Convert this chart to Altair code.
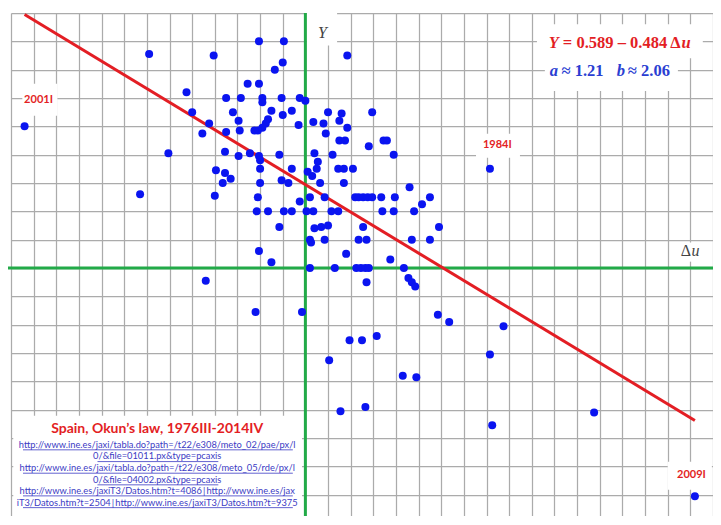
import altair as alt
import pandas as pd

# ---- data: quarterly change in unemployment rate (du) and GDP growth (Y) ----
du = [-0.19, -0.41, -1.38, -0.81, 0.37, -0.20, -0.27, -0.51, -0.41, -1.05,
      -0.70, -0.57, -0.38, -0.38, -0.21, -0.05, 0.00, -1.00, -0.64, -0.30,
      -0.12, -0.20, 0.20, 0.32, 0.59, -0.59, -0.33, -0.85, -0.06, 0.07,
      0.16, 0.30, -0.35, -2.48, 0.37, -0.38, -0.42, -0.45, -0.58, -0.70,
      -0.91, 0.18, 0.30, 0.35, 0.69, 0.72, 0.56, -1.21, -0.71, -0.59,
      -0.49, -0.41, -0.40, -0.23, 0.08, 0.11, 0.24, 0.78, 1.63, -0.79,
      -0.71, -0.66, -0.73, -0.40, -0.12, 0.02, 0.10, 0.06, 0.29, 0.34,
      0.42, -0.21, -0.15, -0.40, 0.13, 0.34, 0.92, -1.46, -0.80, -0.42,
      -0.05, 0.04, 0.17, 0.44, 0.47, 0.51, 0.55, 0.59, 0.67, 0.79,
      1.10, 1.03, -0.43, -0.33, -0.19, -0.12, 0.01, 0.07, 0.23, 0.29,
      0.68, 0.78, 0.96, -0.23, 0.08, 0.14, 0.20, 0.51, 1.18, 0.04,
      0.05, 0.17, 0.47, 0.54, 0.94, 1.10, -0.41, 0.36, 0.75, -0.30,
      0.04, 0.26, 0.45, 0.49, 0.53, 0.56, 0.87, 0.91, 0.94, 0.97,
      0.54, -0.88, -0.44, -0.03, 1.17, 1.27, 1.75, 0.39, 0.50, 0.63,
      0.21, 1.63, 0.86, 0.98, 0.31, 0.53, 2.55, 1.65, 3.44]
gdp = [1.60, 1.60, 1.51, 1.50, 1.50, 1.45, 1.40, 1.30, 1.30, 1.24,
       1.20, 1.20, 1.20, 1.17, 1.20, 1.20, 1.18, 1.10, 1.10, 1.11,
       1.11, 1.08, 1.10, 1.09, 1.10, 1.04, 1.05, 1.02, 1.01, 1.03,
       1.02, 1.04, 1.02, 1.00, 0.99, 0.99, 0.97, 0.97, 0.97, 0.96,
       0.95, 0.95, 0.90, 0.90, 0.90, 0.90, 0.86, 0.81, 0.82, 0.79,
       0.81, 0.79, 0.76, 0.80, 0.81, 0.75, 0.80, 0.80, 0.70, 0.69,
       0.67, 0.63, 0.60, 0.70, 0.70, 0.68, 0.70, 0.65, 0.70, 0.70,
       0.70, 0.62, 0.60, 0.60, 0.60, 0.60, 0.57, 0.52, 0.51, 0.50,
       0.47, 0.50, 0.50, 0.50, 0.50, 0.50, 0.50, 0.50, 0.50, 0.50,
       0.50, 0.45, 0.40, 0.40, 0.40, 0.40, 0.40, 0.40, 0.40, 0.40,
       0.40, 0.40, 0.40, 0.29, 0.28, 0.29, 0.30, 0.29, 0.29, 0.20,
       0.18, 0.20, 0.20, 0.20, 0.20, 0.20, 0.12, 0.10, 0.06, 0.04,
       0.00, 0.00, 0.00, 0.00, 0.00, 0.00, 0.00, -0.07, -0.10, -0.13,
       -0.10, -0.09, -0.31, -0.31, -0.33, -0.38, -0.41, -0.51, -0.51, -0.48,
       -0.65, -0.61, -0.76, -0.77, -1.01, -0.98, -1.02, -1.11, -1.61]

# fitted line  Y = intercept + slope * du
intercept = 0.589
slope = -0.484
fit_du = [-2.48, 3.44]

# grid / axis range
x_domain = [-2.6, 3.6]
y_domain = [-1.75, 1.8]
grid_x = [round(-2.6 + 0.2 * i, 1) for i in range(32)]
grid_y = [round(-1.6 + 0.2 * i, 1) for i in range(18)]

# annotation boxes (white backgrounds)
box_x1 = [0.01, 3.27, 2.045, 2.115, -2.50, 1.507, 3.20, -2.58]
box_x2 = [0.28, 3.52, 3.51, 3.29, -2.19, 1.895, 3.59, -0.03]
box_y1 = [1.57, 0.045, 1.48, 1.25, 1.075, 0.778, -1.565, -1.75]
box_y2 = [1.80, 0.18, 1.72, 1.50, 1.30, 0.948, -1.367, -1.043]

# labels
year_labels = ["2001I", "1984I", "2009I"]
year_x = [-2.357, 1.695, 3.41]
year_y = [1.188, 0.865, -1.459]

title_text = "Spain, Okun\u2019s law, 1976III-2014IV"
link_lines = [
    "http://www.ine.es/jaxi/tabla.do?path=/t22/e308/meto_02/pae/px/l",
    "0/&file=01011.px&type=pcaxis",
    "http://www.ine.es/jaxi/tabla.do?path=/t22/e308/meto_05/rde/px/l",
    "0/&file=04002.px&type=pcaxis",
    "http://www.ine.es/jaxiT3/Datos.htm?t=4086\u2009|\u2009http://www.ine.es/jax",
    "iT3/Datos.htm?t=2504\u2009|\u2009http://www.ine.es/jaxiT3/Datos.htm?t=9375",
]
link_y = [-1.247, -1.330, -1.412, -1.494, -1.572, -1.655]
link_ul_x1 = [-2.494, -1.836, -2.494, -1.836, -2.494, -2.494]
link_ul_x2 = [-0.111, -0.769, -0.111, -0.769, -0.111, -0.111]

# equation pieces
eq1_text = ["Y", "= 0.589 \u2013 0.484 \u0394", "u"]
eq1_x = [2.150, 2.274, 3.322]
eq2_text = ["a", "\u2248 1.21", "b", "\u2248 2.06"]
eq2_x = [2.159, 2.262, 2.751, 2.848]
eq1_y = 1.590
eq2_y = 1.391

RED = "#e31e24"
BLUE = "#0a14f0"
EQBLUE = "#2a3ed2"
GREEN = "#22aa48"
GRIDC = "#ababab"

xs = alt.Scale(domain=x_domain, nice=False, zero=False)
ys = alt.Scale(domain=y_domain, nice=False, zero=False)
AX = alt.Axis(values=grid_x, labels=False, ticks=False, domain=False, grid=True,
              gridColor=GRIDC, gridWidth=1.25, gridOpacity=1, title=None)
AY = alt.Axis(values=grid_y, labels=False, ticks=False, domain=False, grid=True,
              gridColor=GRIDC, gridWidth=1.25, gridOpacity=1, title=None)


def X(f):
    return alt.X(f, scale=xs, axis=AX, title=None)


def Y(f):
    return alt.Y(f, scale=ys, axis=AY, title=None)


pts = pd.DataFrame({"du": du, "Y": gdp})

boxes = alt.Chart(pd.DataFrame({"x1": box_x1, "x2": box_x2, "y1": box_y1, "y2": box_y2})).mark_rect(
    fill="white", opacity=1
).encode(x=X("x1:Q"), x2="x2:Q", y=Y("y1:Q"), y2="y2:Q")

vaxis = alt.Chart(pd.DataFrame({"x": [0.0], "y1": [y_domain[0]], "y2": [y_domain[1]]})).mark_rule(
    color=GREEN, strokeWidth=3
).encode(x=X("x:Q"), y=Y("y1:Q"), y2="y2:Q")

haxis = alt.Chart(pd.DataFrame({"x1": [-2.64], "x2": [x_domain[1]], "y": [0.0]})).mark_rule(
    color=GREEN, strokeWidth=3, clip=False
).encode(x=X("x1:Q"), x2="x2:Q", y=Y("y:Q"))

fit = alt.Chart(pd.DataFrame({"du": fit_du, "Y": [intercept + slope * v for v in fit_du]})).mark_line(
    color=RED, strokeWidth=3
).encode(x=X("du:Q"), y=Y("Y:Q"))

dots = alt.Chart(pts).mark_circle(size=64, color=BLUE, opacity=1).encode(x=X("du:Q"), y=Y("Y:Q"))


def label(texts, xv, yv, **kw):
    df = pd.DataFrame({"t": texts, "x": xv, "y": yv})
    return alt.Chart(df).mark_text(baseline="middle", **kw).encode(
        x=X("x:Q"), y=Y("y:Q"), text="t:N"
    )


years = label(year_labels, year_x, year_y, font="Lato", fontWeight="bold", fontSize=11, color=RED)
ylab = label(["Y"], [0.15], [1.66], font="Liberation Serif", fontStyle="italic", fontSize=16, color="#444444")
dulab1 = label(["\u0394"], [3.36], [0.118], font="Liberation Serif", fontSize=16, color="#444444")
dulab2 = label(["u"], [3.445], [0.118], font="Liberation Serif", fontStyle="italic", fontSize=16, color="#444444")

eqkw = dict(font="Liberation Serif", fontWeight="bold", fontSize=16.5, align="left")
eq_a = label([eq1_text[0]], [eq1_x[0]], [eq1_y], fontStyle="italic", color=RED, **eqkw)
eq_b = label([eq1_text[1]], [eq1_x[1]], [eq1_y], color=RED, **eqkw)
eq_c = label([eq1_text[2]], [eq1_x[2]], [eq1_y], fontStyle="italic", color=RED, **eqkw)
eq_d = label([eq2_text[0], eq2_text[2]], [eq2_x[0], eq2_x[2]], [eq2_y, eq2_y],
             fontStyle="italic", color=EQBLUE, **eqkw)
eq_e = label([eq2_text[1], eq2_text[3]], [eq2_x[1], eq2_x[3]], [eq2_y, eq2_y], color=EQBLUE, **eqkw)

title = label([title_text], [-1.309], [-1.135], font="Lato", fontWeight="bold", fontSize=14, color=RED)
links = label(link_lines, [-1.309] * len(link_lines), link_y, font="Lato",
              fontSize=9.3, color="#3b3bc4")
ul = alt.Chart(pd.DataFrame({"x1": link_ul_x1, "x2": link_ul_x2,
                             "y": [v - 0.036 for v in link_y]})).mark_rule(
    color="#3b3bc4", strokeWidth=0.8
).encode(x=X("x1:Q"), x2="x2:Q", y=Y("y:Q"))

chart = alt.layer(
    boxes, vaxis, haxis, fit, dots, years, ylab, dulab1, dulab2,
    eq_a, eq_b, eq_c, eq_d, eq_e, title, links, ul
).properties(
    width=702, height=503,
    autosize=alt.AutoSizeParams(type="none"),
    padding={"left": 3, "top": 5, "right": 0, "bottom": 0},
    background="white",
).configure_view(strokeWidth=0)

chart.save("out.html", embed_options={"renderer": "svg", "actions": False})
